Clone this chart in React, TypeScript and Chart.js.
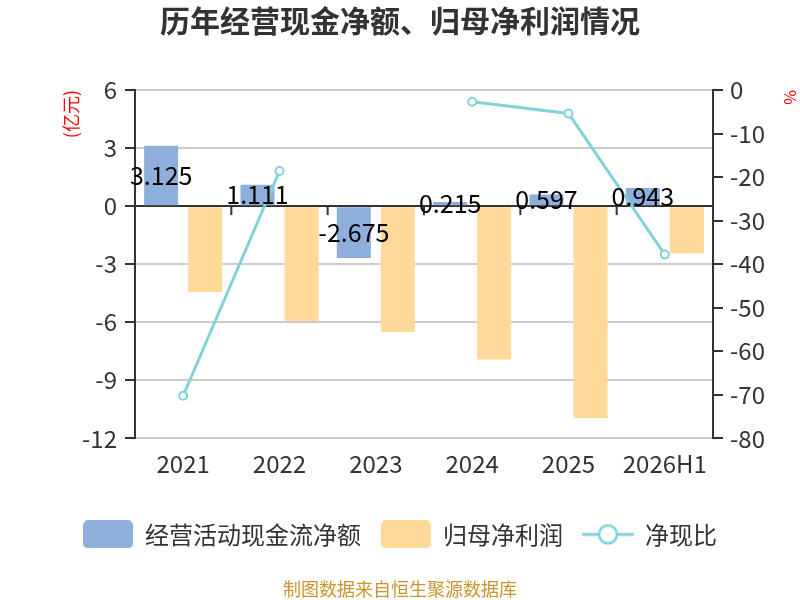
import { useEffect, useRef } from "react"
import { Chart, registerables } from "chart.js"

Chart.register(...registerables)

const years = ["2021", "2022", "2023", "2024", "2025", "2026H1"]
// 经营活动现金流净额 (亿元)
const cashFlow = [3.125, 1.111, -2.675, 0.215, 0.597, 0.943]
// 归母净利润 (亿元)
const netProfit = [-4.44, -5.93, -6.5, -7.92, -10.94, -2.45]
// 净现比 (%), 2023 falls outside the axis range so it isn't drawn
const cashRatio = [-70.2, -18.6, null, -2.7, -5.4, -37.8]

const leftMin = -12
const leftMax = 6
const leftStep = 3
const rightMin = -80
const rightMax = 0
const rightStep = 10

const BLUE = "#8eaedc"
const ORANGE = "#ffd999"
const TEAL = "#80d3d8"
const FONT = '"Noto Sans CJK SC", "Noto Sans", sans-serif'

function boxIcon(color: string) {
  const c = document.createElement("canvas")
  c.width = 50
  c.height = 28
  const g = c.getContext("2d")!
  g.fillStyle = color
  g.beginPath()
  g.roundRect(0, 0, 50, 28, 5)
  g.fill()
  return c
}

function lineIcon(color: string) {
  const c = document.createElement("canvas")
  c.width = 52
  c.height = 24
  const g = c.getContext("2d")!
  g.strokeStyle = color
  g.lineWidth = 3
  g.beginPath()
  g.moveTo(0, 12)
  g.lineTo(52, 12)
  g.stroke()
  g.beginPath()
  g.arc(26, 12, 9, 0, Math.PI * 2)
  g.fillStyle = "#fff"
  g.fill()
  g.lineWidth = 2.5
  g.stroke()
  return c
}

// value labels in the middle of the cash-flow bars + small ticks on the zero line
const barLabels = {
  id: "barLabels",
  afterDatasetsDraw(chart: Chart) {
    const { ctx } = chart
    const x = chart.scales.x
    const y = chart.scales.y
    const y0 = y.getPixelForValue(0)
    ctx.save()
    ctx.strokeStyle = "#333"
    ctx.lineWidth = 2
    for (let i = 1; i < years.length; i++) {
      const px = (x.getPixelForValue(i - 1) + x.getPixelForValue(i)) / 2
      ctx.beginPath()
      ctx.moveTo(px, y0)
      ctx.lineTo(px, y0 + 9)
      ctx.stroke()
    }
    const meta = chart.getDatasetMeta(0)
    ctx.font = `25px ${FONT}`
    ctx.fillStyle = "#000"
    ctx.textAlign = "center"
    ctx.textBaseline = "middle"
    meta.data.forEach((bar: any, i) => {
      const { x: bx, y: by, base } = bar.getProps(["x", "y", "base"], true)
      ctx.fillText(String(cashFlow[i]), bx, (by + base) / 2)
    })
    ctx.restore()
  },
}

export default function App() {
  const canvasRef = useRef<HTMLCanvasElement>(null)

  useEffect(() => {
    if (!canvasRef.current) return
    Chart.defaults.font.family = FONT

    const icons = [boxIcon(BLUE), boxIcon(ORANGE), lineIcon(TEAL)]
    const names = ["经营活动现金流净额", "归母净利润", "净现比"]

    const chart = new Chart(canvasRef.current, {
      type: "bar",
      data: {
        labels: years,
        datasets: [
          {
            label: names[0],
            data: cashFlow,
            backgroundColor: BLUE,
            categoryPercentage: 0.914,
            barPercentage: 0.773,
            yAxisID: "y",
            order: 2,
          },
          {
            label: names[1],
            data: netProfit,
            backgroundColor: ORANGE,
            categoryPercentage: 0.914,
            barPercentage: 0.773,
            yAxisID: "y",
            order: 2,
          },
          {
            type: "line",
            label: names[2],
            data: cashRatio,
            borderColor: TEAL,
            borderWidth: 3,
            pointRadius: 4,
            pointBorderWidth: 2,
            pointBackgroundColor: "#fff",
            pointBorderColor: TEAL,
            spanGaps: false,
            yAxisID: "y1",
            order: 1,
          } as any,
        ],
      },
      options: {
        responsive: true,
        maintainAspectRatio: false,
        animation: false,
        scales: {
          x: {
            grid: { display: false, drawTicks: false },
            border: { display: false },
            ticks: { color: "#333", font: { size: 24 }, padding: 11 },
            afterFit: (s: any) => {
              s.height = 64
            },
          },
          y: {
            position: "left",
            min: leftMin,
            max: leftMax,
            ticks: { stepSize: leftStep, color: "#333", font: { size: 24 }, padding: 8 },
            grid: {
              color: (c: any) => (c.tick && c.tick.value === 0 ? "#333" : "#ccc"),
              lineWidth: 2,
              tickLength: 10,
              tickColor: "#333",
            },
            border: { color: "#333", width: 2 },
            title: {
              display: true,
              text: "(亿元)",
              color: "#ff0000",
              font: { size: 18 },
              align: "end",
              padding: { top: 60 },
            },
            afterFit: (s: any) => {
              s.width = 135
            },
          },
          y1: {
            position: "right",
            min: rightMin,
            max: rightMax,
            ticks: { stepSize: rightStep, color: "#333", font: { size: 24 }, padding: 7 },
            grid: { drawOnChartArea: false, tickLength: 10, tickColor: "#333", lineWidth: 2 },
            border: { color: "#333", width: 2 },
            title: {
              display: true,
              text: "%",
              color: "#ff0000",
              font: { size: 16 },
              align: "end",
              padding: 0,
            },
            afterFit: (s: any) => {
              s.width = 87
            },
          },
        },
        plugins: {
          title: {
            display: true,
            text: "历年经营现金净额、归母净利润情况",
            color: "#333",
            font: { size: 30, weight: "bold" },
            padding: { top: 3, bottom: 51 },
          },
          subtitle: {
            display: true,
            position: "bottom",
            text: "制图数据来自恒生聚源数据库",
            color: "#c9952f",
            font: { size: 18 },
            padding: { top: 22, bottom: 0 },
          },
          legend: {
            position: "bottom",
            labels: {
              usePointStyle: true,
              pointStyleWidth: 50,
              padding: 20,
              color: "#333",
              font: { size: 24 },
              generateLabels: () =>
                names.map((text, i) => ({
                  text,
                  pointStyle: icons[i] as any,
                  fontColor: "#333",
                  hidden: false,
                  datasetIndex: i,
                  lineWidth: 0,
                })),
            },
          },
          tooltip: { enabled: false },
        },
      },
      plugins: [barLabels],
    })

    return () => {
      chart.destroy()
    }
  }, [])

  return (
    <div style={{ position: "fixed", left: 0, top: 0, width: 800, height: 600 }}>
      <canvas ref={canvasRef}></canvas>
    </div>
  )
}
